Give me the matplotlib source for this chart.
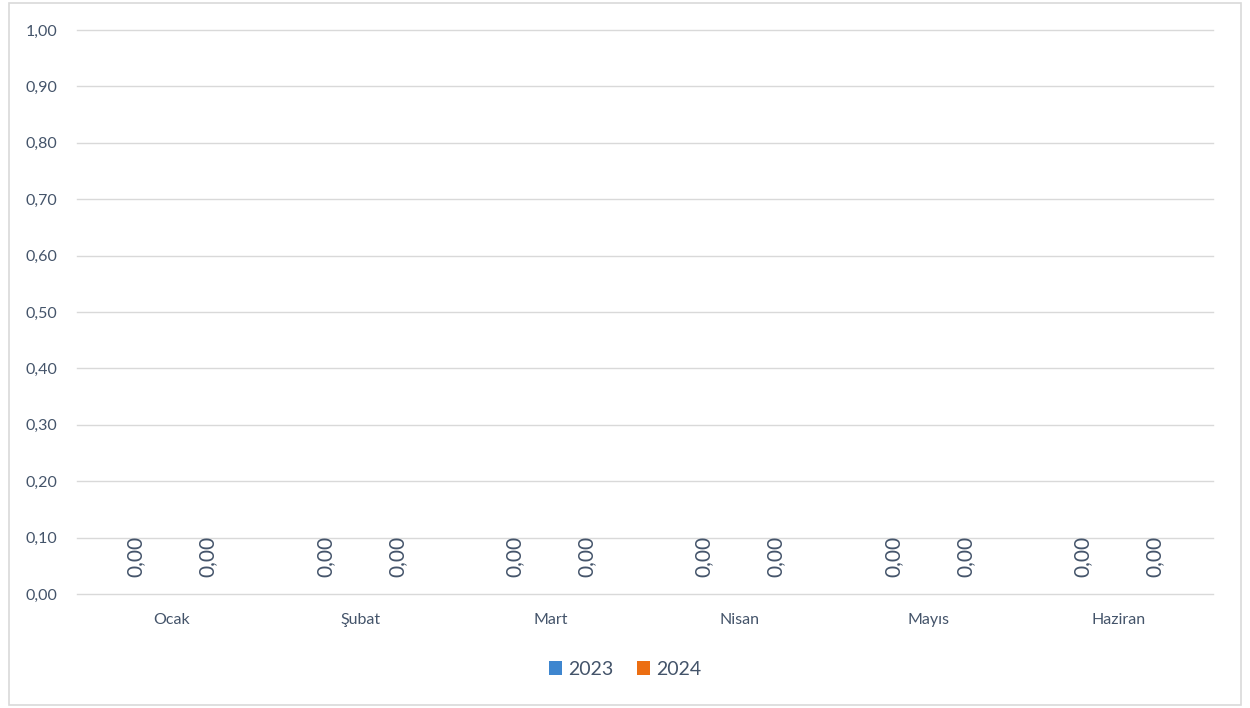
import matplotlib.pyplot as plt
import numpy as np
from matplotlib.patches import Rectangle

aylar = ['Ocak', 'Şubat', 'Mart', 'Nisan', 'Mayıs', 'Haziran']
yil_2023 = [0.0, 0.0, 0.0, 0.0, 0.0, 0.0]
yil_2024 = [0.0, 0.0, 0.0, 0.0, 0.0, 0.0]
seriler = ['2023', '2024']
renkler = ['#3E86CF', '#EC6E12']
yazi_rengi = '#44546A'

plt.rcParams['font.family'] = ['Lato', 'DejaVu Sans']

fig = plt.figure(figsize=(12.5, 7.08), dpi=100)
fig.patches.append(Rectangle((0.007, 0.004), 0.986, 0.992, transform=fig.transFigure,
                             fill=False, edgecolor='#D9D9D9', linewidth=1.2))
ax = fig.add_axes([0.0616, 0.161, 0.9088, 0.7966])

x = np.arange(len(aylar))
w = 0.38
b1 = ax.bar(x - w/2, yil_2023, w, color=renkler[0], label=seriler[0])
b2 = ax.bar(x + w/2, yil_2024, w, color=renkler[1], label=seriler[1])

for bars, vals in [(b1, yil_2023), (b2, yil_2024)]:
    for b, v in zip(bars, vals):
        ax.annotate(('%.2f' % v).replace('.', ','),
                    (b.get_x() + b.get_width()/2, v), xytext=(0, 12),
                    textcoords='offset points', rotation=90, ha='center', va='bottom',
                    fontsize=15, color=yazi_rengi)

ax.set_xlim(-0.5, len(aylar) - 0.5)
ax.set_ylim(0, 1.0)
yt = np.arange(0, 1.01, 0.1)
ax.set_yticks(yt)
ax.set_yticklabels([('%.2f' % t).replace('.', ',') for t in yt])
ax.set_xticks(x)
ax.set_xticklabels(aylar)
ax.tick_params(axis='both', length=0, labelsize=11.5, colors=yazi_rengi)
ax.tick_params(axis='x', pad=14)
ax.tick_params(axis='y', pad=14)
ax.grid(axis='y', color='#D9D9D9', linewidth=1)
for gl in ax.get_ygridlines():
    gl.set_clip_on(False)
ax.set_axisbelow(True)
for s in ax.spines.values():
    s.set_visible(False)

leg = fig.legend(loc='center', bbox_to_anchor=(0.5, 0.055), ncol=2, frameon=False,
                 fontsize=14, handlelength=0.7, handleheight=0.7, handletextpad=0.3,
                 columnspacing=1.2)
for t in leg.get_texts():
    t.set_color(yazi_rengi)

plt.savefig('out.png', dpi=100)
